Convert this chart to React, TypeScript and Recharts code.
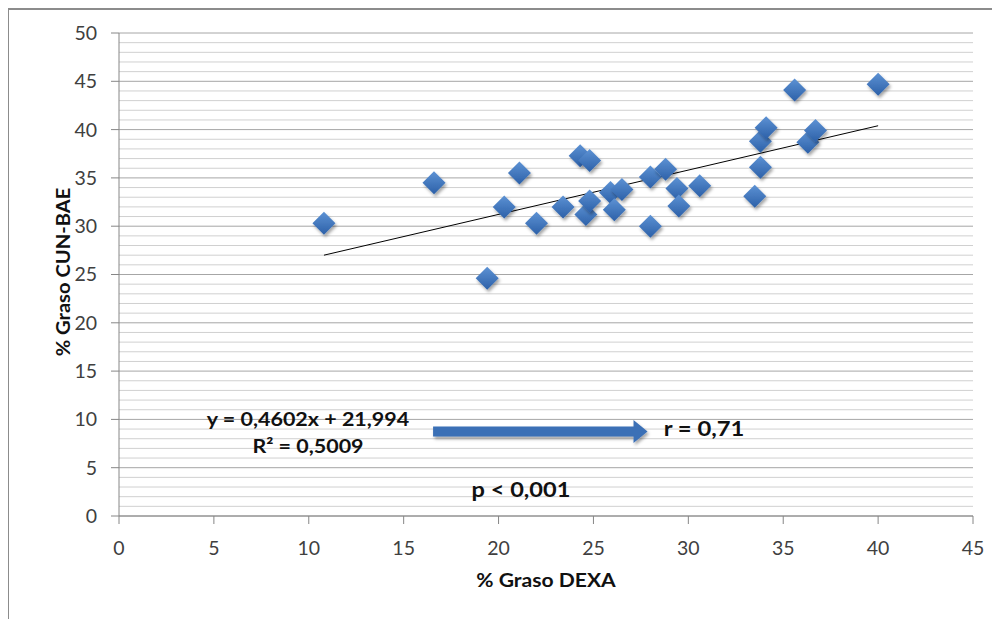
import React from "react";
import {
  ScatterChart,
  Scatter,
  XAxis,
  YAxis,
  CartesianGrid,
  ReferenceLine,
} from "recharts";

// % Graso DEXA vs % Graso CUN-BAE
const dexa = [
  10.8, 16.6, 19.4, 20.3, 21.1, 22.0, 23.4, 24.3, 24.8, 24.6, 24.8, 25.9, 26.1, 26.5,
  28.0, 28.0, 28.8, 29.4, 29.5, 30.6, 33.5, 33.8, 33.8, 34.1, 35.6, 36.3, 36.7, 40.0,
];
const cunBae = [
  30.3, 34.5, 24.6, 32.0, 35.5, 30.3, 32.0, 37.3, 36.8, 31.2, 32.6, 33.5, 31.7, 33.8,
  30.0, 35.1, 35.9, 33.9, 32.1, 34.2, 33.1, 38.8, 36.1, 40.2, 44.1, 38.7, 39.9, 44.7,
];

const xTicks = [0, 5, 10, 15, 20, 25, 30, 35, 40, 45];
const yTicks = [0, 5, 10, 15, 20, 25, 30, 35, 40, 45, 50];
const yMinor = [
  1, 2, 3, 4, 6, 7, 8, 9, 11, 12, 13, 14, 16, 17, 18, 19, 21, 22, 23, 24,
  26, 27, 28, 29, 31, 32, 33, 34, 36, 37, 38, 39, 41, 42, 43, 44, 46, 47, 48, 49,
];

// linear trend (y = 0,4602x + 21,994) endpoints as drawn
const trendLine = [
  { x: 10.8, y: 27.0 },
  { x: 40.0, y: 40.4 },
];
// blue arrow pointing to "r = 0,71"
const arrow = [
  { x: 16.55, y: 8.75 },
  { x: 27.85, y: 8.75 },
];

const points = dexa.map((x, i) => ({ x, y: cunBae[i] }));

const font = "Lato, 'Open Sans', sans-serif";

const Diamond = (props: any) => {
  const { cx, cy } = props;
  const r = 11.5;
  return (
    <polygon
      points={`${cx},${cy - r} ${cx + r},${cy} ${cx},${cy + r} ${cx - r},${cy}`}
      fill="url(#dg)"
      filter="url(#ds)"
    />
  );
};

const Arrow = (props: any) => {
  const { x1, y1, x2 } = props;
  const half = 5;
  const headLen = 14;
  const headHalf = 11.5;
  const bx = x2 - headLen;
  const d = `M${x1},${y1 - half} L${bx},${y1 - half} L${bx},${y1 - headHalf} L${x2},${y1} L${bx},${y1 + headHalf} L${bx},${y1 + half} L${x1},${y1 + half} Z`;
  return <path d={d} fill="#3b6fb6" filter="url(#ds)" />;
};

const txt: React.CSSProperties = {
  position: "absolute",
  fontFamily: font,
  fontWeight: 700,
  color: "#111",
  whiteSpace: "nowrap",
  lineHeight: 1,
};

const at = (sx: number, rot = 0) =>
  `translate(-50%, -50%) rotate(${rot}deg) scaleX(${sx})`;

export default function App() {
  return (
    <div style={{ position: "relative", width: 992, height: 611, background: "#fff" }}>
      <div
        style={{
          position: "absolute",
          left: -1,
          top: 0,
          width: 993,
          height: 609,
          borderTop: "2px solid #8c8c8c",
          borderLeft: "2px solid #8c8c8c",
          borderBottom: "1px solid #d9d9d9",
        }}
      />
      <ScatterChart
        width={992}
        height={611}
        margin={{ top: 25, right: 27, bottom: 63, left: 51 }}
        style={{ position: "absolute", left: 0, top: 0 }}
      >
        <defs>
          <linearGradient id="dg" x1="0" y1="0" x2="0" y2="1">
            <stop offset="0%" stopColor="#5d92d4" />
            <stop offset="100%" stopColor="#2c60a8" />
          </linearGradient>
          <filter id="ds" x="-50%" y="-50%" width="200%" height="200%">
            <feDropShadow dx="1.5" dy="2.5" stdDeviation="1.8" floodColor="#000" floodOpacity="0.35" />
          </filter>
        </defs>
        {yMinor.map((v) => (
          <ReferenceLine key={v} y={v} stroke="#d0d0d0" strokeWidth={1} />
        ))}
        <CartesianGrid vertical={false} stroke="#a6a6a6" />
        <XAxis
          type="number"
          dataKey="x"
          domain={[0, 45]}
          ticks={xTicks}
          interval={0}
          height={40}
          tickSize={8}
          tickMargin={17}
          axisLine={{ stroke: "#868686" }}
          tickLine={{ stroke: "#868686" }}
          tick={{ fill: "#404040", fontSize: 19.5, fontFamily: font }}
        />
        <YAxis
          type="number"
          dataKey="y"
          domain={[0, 50]}
          ticks={yTicks}
          interval={0}
          width={60}
          tickSize={8}
          tickMargin={14}
          axisLine={{ stroke: "#868686" }}
          tickLine={{ stroke: "#868686" }}
          tick={{ fill: "#404040", fontSize: 19.5, fontFamily: font }}
        />
        <Scatter data={points} shape={<Diamond />} isAnimationActive={false} />
        <ReferenceLine segment={trendLine} stroke="#000" strokeWidth={1} />
        <ReferenceLine segment={arrow} shape={<Arrow />} />
      </ScatterChart>
      <div style={{ ...txt, left: 54, top: 264, fontSize: 19, transform: at(1.06, -90) }}>
        % Graso CUN-BAE
      </div>
      <div style={{ ...txt, left: 538, top: 571, fontSize: 19, transform: at(1.11) }}>
        % Graso DEXA
      </div>
      <div style={{ ...txt, left: 300, top: 410, fontSize: 19, transform: at(1.13) }}>
        y = 0,4602x + 21,994
      </div>
      <div style={{ ...txt, left: 300, top: 437, fontSize: 19, transform: at(1.13) }}>
        R² = 0,5009
      </div>
      <div style={{ ...txt, left: 696, top: 420, fontSize: 20, transform: at(1.19) }}>
        r = 0,71
      </div>
      <div style={{ ...txt, left: 513, top: 481, fontSize: 20, transform: at(1.18) }}>
        p &lt; 0,001
      </div>
    </div>
  );
}
